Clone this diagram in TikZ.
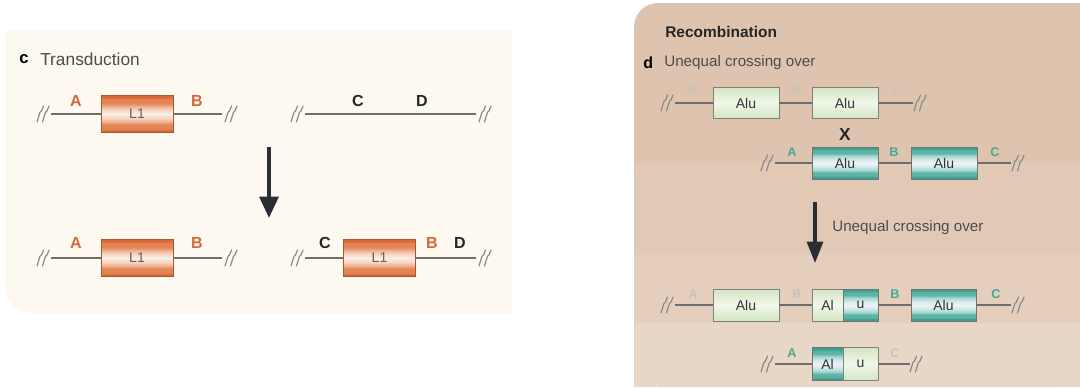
\documentclass[tikz,border=0pt]{standalone}
\usepackage{fontspec}
\setmainfont{Liberation Sans}
\usetikzlibrary{arrows.meta}
\definecolor{cream}{HTML}{FEF9F0}
\definecolor{bandA}{HTML}{DEC4AE}
\definecolor{bandB}{HTML}{E2C9B5}
\definecolor{bandC}{HTML}{E5CEBB}
\definecolor{bandD}{HTML}{E8D6C6}
\definecolor{oD}{HTML}{D86A3A}
\definecolor{oM}{HTML}{E48556}
\definecolor{oL1}{HTML}{EEAA88}
\definecolor{oL2}{HTML}{F7D3BF}
\definecolor{oW}{HTML}{FCEEE4}
\definecolor{tD}{HTML}{3F9F8F}
\definecolor{tM}{HTML}{5CB4A5}
\definecolor{tL1}{HTML}{9ED3CB}
\definecolor{tL2}{HTML}{D0E8EA}
\definecolor{tW}{HTML}{EEF4F8}
\definecolor{gD}{HTML}{D5E7C6}
\definecolor{gW}{HTML}{F1F8EA}
\definecolor{orlbl}{HTML}{D4683A}
\definecolor{tlbl}{HTML}{45A898}
\definecolor{palelbl}{HTML}{C6C3BE}
\definecolor{chrom}{HTML}{6E6E6E}
\definecolor{brkc}{HTML}{8A8A8A}
\definecolor{arrc}{HTML}{2A2C36}
\pgfdeclareverticalshading{lonesh}{100bp}{color(0bp)=(oD); color(28bp)=(oD); color(30bp)=(oM); color(36bp)=(oM); color(39bp)=(oL1); color(44bp)=(oL2); color(50bp)=(oW); color(56bp)=(oL2); color(61bp)=(oL1); color(64bp)=(oM); color(70bp)=(oM); color(72bp)=(oD); color(100bp)=(oD)}
\pgfdeclareverticalshading{tealsh}{100bp}{color(0bp)=(tD); color(28bp)=(tD); color(30bp)=(tM); color(35bp)=(tM); color(38bp)=(tL1); color(44bp)=(tL2); color(50bp)=(tW); color(56bp)=(tL2); color(62bp)=(tL1); color(65bp)=(tM); color(70bp)=(tM); color(72bp)=(tD); color(100bp)=(tD)}
\pgfdeclareverticalshading{greensh}{100bp}{color(0bp)=(gD); color(27bp)=(gD); color(50bp)=(gW); color(73bp)=(gD); color(100bp)=(gD)}
\tikzset{
  brk/.pic={
    \draw[brkc, line width=0.9pt, line cap=round] (-6,8) -- (-4.5,3) .. controls (-2,0) and (-5,-1) .. (-1.5,-3) -- (0.5,-8);
    \draw[brkc, line width=0.9pt, line cap=round] (-0.5,8) -- (1,3) .. controls (3.5,0) and (0.5,-1) .. (4,-3) -- (6,-8);
  },
  chr/.style={chrom, line width=1.1pt},
  lone/.style={draw=oD!80!black, line width=0.5pt, shading=lonesh, minimum width=54pt, minimum height=28pt, inner sep=0pt, font=\fontsize{10.5}{10.5}\selectfont, text=black!62},
  tealbox/.style={draw=black!55, line width=0.5pt, shading=tealsh, minimum height=24pt, inner sep=0pt, font=\fontsize{10.5}{10.5}\selectfont, text=black!80},
  greenbox/.style={draw=black!50, line width=0.5pt, shading=greensh, minimum height=24pt, inner sep=0pt, font=\fontsize{10.5}{10.5}\selectfont, text=black!80},
  biglbl/.style={font=\bfseries\fontsize{12}{12}\selectfont, inner sep=0pt},
  smlbl/.style={font=\bfseries\fontsize{9.5}{9.5}\selectfont, inner sep=0pt},
  title/.style={font=\fontsize{11.4}{11.4}\selectfont, text=black!70, inner sep=0pt, anchor=west},
}
\begin{document}
\begin{tikzpicture}[x=0.75pt,y=-0.75pt]
\useasboundingbox (0,0) rectangle (1080,387);
% ---------- panels
\fill[cream, rounded corners=20pt] (5,30) rectangle (512,313);
\fill[cream] (5,30) rectangle (512,200);
\fill[cream] (200,30) rectangle (512,313);
\fill[bandA, rounded corners=18pt] (634,3) rectangle (1080,387);
\fill[bandA] (680,3) rectangle (1080,163);
\fill[bandA] (634,100) rectangle (1080,163);
\fill[bandB] (634,163) rectangle (1080,255);
\fill[bandC] (634,255) rectangle (1080,323);
\fill[bandD] (634,323) rectangle (1080,387);
% ---------- panel c
\node[font=\bfseries\fontsize{12.5}{12.5}\selectfont, anchor=west, inner sep=0pt] (cl) at (19,59) {c};
\node[title, font=\fontsize{13}{13}\selectfont] (ct) at (40,59) {Transduction};
% row 1 left
\pic at (43,114) {brk};
\coordinate (c1a) at (51,114);
\node[lone] (L1a) at (137,114) {L1};
\coordinate (c1b) at (222,114);
\pic at (231,114) {brk};
\draw[chr] (c1a) -- (L1a.west);
\draw[chr] (L1a.east) -- (c1b);
\node[biglbl, text=orlbl] (A1) at (76,101) {A};
\node[biglbl, text=orlbl] (B1) at (197,101) {B};
% row 1 right
\pic at (297,114) {brk};
\coordinate (c2a) at (305,114);
\coordinate (c2b) at (476,114);
\pic at (485,114) {brk};
\draw[chr] (c2a) -- (c2b);
\node[biglbl, text=black!85] (C1) at (358,101) {C};
\node[biglbl, text=black!85] (D1) at (422,101) {D};
% arrow
\coordinate (ar1) at (269,147);
\coordinate (ar2) at (269,218);
\draw[arrc, line width=3pt, -{Triangle[width=14pt,length=16pt]}] (ar1) -- (ar2);
% row 2 left
\pic at (43,258) {brk};
\coordinate (c3a) at (51,258);
\node[lone] (L1b) at (137,258) {L1};
\coordinate (c3b) at (222,258);
\pic at (231,258) {brk};
\draw[chr] (c3a) -- (L1b.west);
\draw[chr] (L1b.east) -- (c3b);
\node[biglbl, text=orlbl] (A2) at (76,243) {A};
\node[biglbl, text=orlbl] (B2) at (197,243) {B};
% row 2 right
\pic at (297,258) {brk};
\coordinate (c4a) at (305,258);
\node[lone] (L1c) at (379.5,258) {L1};
\coordinate (c4b) at (476,258);
\pic at (485,258) {brk};
\draw[chr] (c4a) -- (L1c.west);
\draw[chr] (L1c.east) -- (c4b);
\node[biglbl, text=black!85] (C2) at (325,243) {C};
\node[biglbl, text=orlbl] (B3) at (432,243) {B};
\node[biglbl, text=black!85] (D2) at (460,243) {D};
% ---------- panel d
\node[font=\bfseries\fontsize{11.6}{11.6}\selectfont, text=black!85, anchor=west, inner sep=0pt] (rt) at (665,32) {Recombination};
\node[font=\bfseries\fontsize{12}{12}\selectfont, anchor=west, inner sep=0pt] (dl) at (643,63) {d};
\node[title] (dt) at (664,63) {Unequal crossing over};
% row 1
\pic at (667,103) {brk};
\coordinate (r1a) at (675,103);
\node[greenbox, minimum width=49.5pt, minimum height=23.5pt] (G1) at (746,103) {Alu};
\node[greenbox, minimum width=49.5pt, minimum height=23.5pt] (G2) at (845,103) {Alu};
\coordinate (r1b) at (913,103);
\pic at (920,103) {brk};
\draw[chr] (r1a) -- (G1.west);
\draw[chr] (G1.east) -- (G2.west);
\draw[chr] (G2.east) -- (r1b);
\node[smlbl, text=palelbl] (pA1) at (693,90) {A};
\node[smlbl, text=palelbl] (pB1) at (795,90) {B};
\node[smlbl, text=palelbl] (pC1) at (897,90) {C};
\node[font=\bfseries\fontsize{13}{13}\selectfont, text=black!85, inner sep=0pt] (X) at (845,135) {X};
% row 2
\pic at (767,163) {brk};
\coordinate (r2a) at (775,163);
\node[tealbox, minimum width=49.5pt] (T1) at (845,163) {Alu};
\node[tealbox, minimum width=49.5pt] (T2) at (944,163) {Alu};
\coordinate (r2b) at (1011,163);
\pic at (1018,163) {brk};
\draw[chr] (r2a) -- (T1.west);
\draw[chr] (T1.east) -- (T2.west);
\draw[chr] (T2.east) -- (r2b);
\node[smlbl, text=tlbl] (tA1) at (792,152) {A};
\node[smlbl, text=tlbl] (tB1) at (894,152) {B};
\node[smlbl, text=tlbl] (tC1) at (995,152) {C};
% arrow
\coordinate (ar3) at (815,202);
\coordinate (ar4) at (815,263);
\draw[arrc, line width=2.3pt, -{Triangle[width=12pt,length=16pt]}] (ar3) -- (ar4);
\node[title] (ut) at (832,228) {Unequal crossing over};
% row 3
\pic at (667,305) {brk};
\coordinate (r3a) at (675,305);
\node[greenbox, minimum width=49.5pt] (G3) at (746,305) {Alu};
\node[greenbox, minimum width=23.25pt] (G4) at (827.5,305) {Al};
\node[tealbox, minimum width=26.25pt] (T3) at (860.5,305) {u};
\node[tealbox, minimum width=48.75pt] (T4) at (943.5,305) {Alu};
\coordinate (r3b) at (1011,305);
\pic at (1018,305) {brk};
\draw[chr] (r3a) -- (G3.west);
\draw[chr] (G3.east) -- (G4.west);
\draw[chr] (T3.east) -- (T4.west);
\draw[chr] (T4.east) -- (r3b);
\node[smlbl, text=palelbl] (pA2) at (693,294) {A};
\node[smlbl, text=palelbl] (pB2) at (797,294) {B};
\node[smlbl, text=tlbl] (tB2) at (895,294) {B};
\node[smlbl, text=tlbl] (tC2) at (996,294) {C};
% row 4
\pic at (767,364) {brk};
\coordinate (r4a) at (775,364);
\node[tealbox, minimum width=23.25pt, minimum height=24.75pt] (T5) at (827.5,364) {Al};
\node[greenbox, minimum width=26.25pt, minimum height=24.75pt] (G5) at (860.5,364) {u};
\coordinate (r4b) at (910,364);
\pic at (916,364) {brk};
\draw[chr] (r4a) -- (T5.west);
\draw[chr] (G5.east) -- (r4b);
\node[smlbl, text=tlbl] (tA2) at (792,353) {A};
\node[smlbl, text=palelbl] (pC2) at (895,353) {C};
\end{tikzpicture}
\end{document}
